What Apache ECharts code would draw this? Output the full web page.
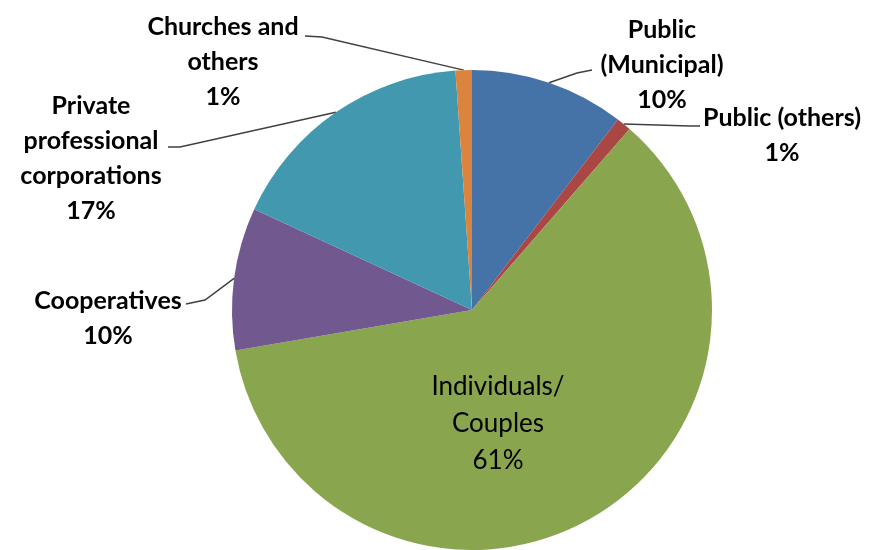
<!DOCTYPE html>
<html>
<head>
<meta charset="utf-8">
<script src="https://cdn.jsdelivr.net/npm/echarts@6/dist/echarts.min.js"></script>
<style>
  html, body { margin: 0; padding: 0; background: #fff; }
  #chart { width: 869px; height: 550px; }
</style>
</head>
<body>
<div id="chart"></div>
<script>
  // categories and values (clockwise from 12 o'clock)
  var categories = ['Public\n(Municipal)', 'Public (others)', 'Individuals/\nCouples', 'Cooperatives', 'Private\nprofessional\ncorporations', 'Churches and\nothers'];
  var shares = [10.4, 1.0, 60.9, 9.6, 17.0, 1.1];
  var colors = ['#4572A7', '#AA4643', '#89A54E', '#71588F', '#4198AF', '#DB843D'];

  // label placement (centre of text block) and leader bends
  var labelPos = [[662, 65], [782, 135], [498, 424], [108, 318], [91, 158], [223, 62]];
  var leaderBends = [[[577, 73], [592, 70]], [[690, 126], [700, 126]], null, [[205, 300], [186, 304]], [[180, 147], [168, 147]], [[322, 37], [305, 36]]];

  var chart = echarts.init(document.getElementById('chart'));
  chart.setOption({
    animation: false,
    color: colors,
    series: [{
      type: 'pie',
      center: [472, 310],
      radius: 240,
      startAngle: 90,
      clockwise: true,
      avoidLabelOverlap: false,
      percentPrecision: 0,
      itemStyle: { borderWidth: 0 },
      label: {
        show: true,
        position: 'outside',
        formatter: '{b}\n{d}%',
        color: '#000',
        fontFamily: 'Lato',
        fontWeight: 'bold',
        fontSize: 25,
        lineHeight: 35,
        align: 'center'
      },
      labelLine: {
        show: true,
        lineStyle: { color: '#404040', width: 1.5 }
      },
      labelLayout: function (p) {
        var pos = labelPos[p.dataIndex];
        var out = { x: pos[0], y: pos[1], align: 'center', verticalAlign: 'middle' };
        var bend = leaderBends[p.dataIndex];
        if (bend && p.labelLinePoints) {
          out.labelLinePoints = [p.labelLinePoints[0], bend[0], bend[1]];
        }
        return out;
      },
      data: categories.map(function (c, i) {
        var item = { name: c, value: shares[i] };
        if (i === 2) {
          item.label = { position: 'inside', fontWeight: 'normal', fontSize: 26, lineHeight: 37 };
          item.labelLine = { show: false };
        }
        return item;
      })
    }]
  });
</script>
</body>
</html>
